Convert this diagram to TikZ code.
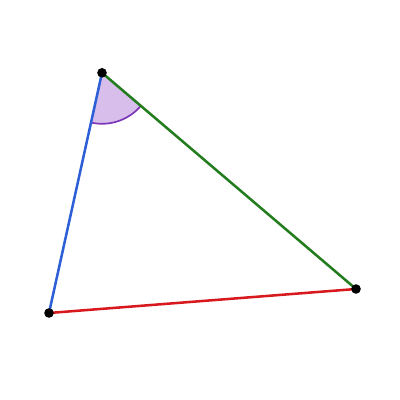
\documentclass[tikz,border=0pt]{standalone}
\usepackage{tikz}
\definecolor{sideblue}{RGB}{45,95,215}
\definecolor{sidered}{RGB}{215,25,30}
\definecolor{sidegreen}{RGB}{35,125,30}
\definecolor{anglefill}{RGB}{215,190,235}
\definecolor{angleline}{RGB}{125,55,185}
\begin{document}
\begin{tikzpicture}[line join=round,line cap=round,line width=1.8pt,declare function={r=1.275;}]
	\useasboundingbox (0,0) rectangle (10,10);
	\coordinate (A) at (2.55,8.18);
	\coordinate (B) at (1.225,2.175);
	\coordinate (C) at (8.9,2.775);
	\fill[anglefill] (A)--++(257.6:r) arc (257.6:319.5:r)--cycle;
	\draw[angleline,line width=1.2pt] (A)++(257.6:r) arc (257.6:319.5:r);
	\draw[sideblue] (A)--(B);
	\draw[sidered] (B)--(C);
	\draw[sidegreen] (A)--(C);
	\foreach \p in {A,B,C} \fill (\p) circle(0.12);
	%	\path (current bounding box.south) node[below]{};
\end{tikzpicture}
\end{document}
